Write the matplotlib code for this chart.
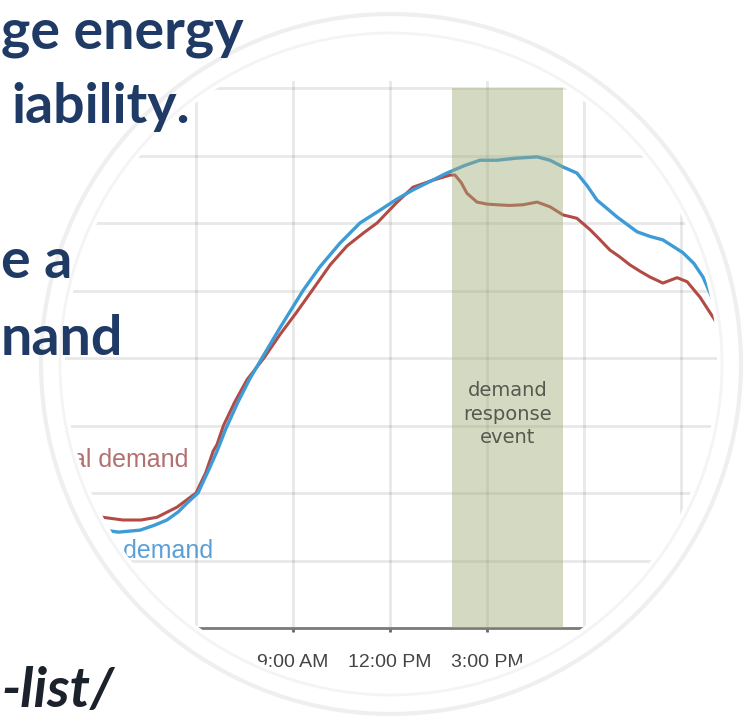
import numpy as np
import matplotlib
matplotlib.use("Agg")
import matplotlib.pyplot as plt
from matplotlib.path import Path
from matplotlib.patches import PathPatch, Circle

# actual demand (red), hours of day vs load (grid units)
actual_hours = [3.12, 3.74, 4.30, 4.79, 5.41, 6.00, 6.30, 6.53, 6.65, 6.85, 7.20, 7.58,
                8.10, 8.60, 9.10, 9.59, 10.15, 10.67, 11.20, 11.60, 12.20, 12.71, 13.30,
                13.86, 14.01, 14.20, 14.38, 14.69, 15.00, 15.31, 15.70, 16.11, 16.55, 16.95,
                17.35, 17.78, 18.19, 18.50, 18.80, 19.10, 19.42, 19.75, 20.04, 20.44, 20.88,
                21.19, 21.59, 22.05]
actual_load = [1.64, 1.60, 1.60, 1.64, 1.79, 2.00, 2.30, 2.62, 2.72, 3.00, 3.35, 3.68,
               4.00, 4.35, 4.67, 5.00, 5.38, 5.66, 5.86, 6.00, 6.30, 6.53, 6.63,
               6.71, 6.71, 6.60, 6.44, 6.31, 6.28, 6.27, 6.26, 6.27, 6.31, 6.24,
               6.12, 6.07, 5.90, 5.75, 5.60, 5.50, 5.38, 5.28, 5.20, 5.11, 5.19,
               5.13, 4.90, 4.56]

# forecast demand (blue)
forecast_hours = [3.18, 3.60, 4.27, 4.70, 5.10, 5.45, 5.72, 6.06, 6.40, 6.65, 6.92, 7.30,
                  7.65, 8.04, 8.60, 9.31, 9.83, 10.45, 11.07, 11.69, 12.20, 12.71, 13.30,
                  13.76, 14.30, 14.78, 15.31, 15.90, 16.55, 16.95, 17.35, 17.78, 18.10, 18.40,
                  18.70, 19.02, 19.64, 20.05, 20.44, 21.06, 21.40, 21.68, 21.99, 22.10]
forecast_load = [1.45, 1.42, 1.45, 1.52, 1.60, 1.72, 1.85, 2.00, 2.35, 2.62, 2.95, 3.35,
                 3.68, 4.00, 4.45, 5.00, 5.35, 5.70, 6.00, 6.19, 6.35, 6.49, 6.63,
                 6.74, 6.85, 6.93, 6.93, 6.96, 6.98, 6.93, 6.83, 6.74, 6.55, 6.34,
                 6.22, 6.09, 5.87, 5.80, 5.75, 5.56, 5.40, 5.20, 4.86, 4.70]

tick_hours = [6, 9, 12, 15, 18, 21]
tick_labels = ["6:00 AM", "9:00 AM", "12:00 PM", "3:00 PM", "6:00 PM", "9:00 PM"]
grid_levels = [1, 2, 3, 4, 5, 6, 7, 8]
event_start, event_end = 13.92, 17.35

fig = plt.figure(figsize=(7.56, 7.23), dpi=100)

# chart
ax = fig.add_axes([0, 95 / 723, 1, 546.75 / 723])
ax.set_xlim(-0.063, 23.32)
ax.set_ylim(0, 8.1)
ax.set_xticks(tick_hours)
ax.set_xticklabels(tick_labels, family="Liberation Sans")
ax.set_yticks(grid_levels)
ax.tick_params(axis="y", left=False, labelleft=False)
ax.tick_params(axis="x", length=3, width=2, color="#666666", labelsize=14,
               labelcolor="#444444", pad=16)
ax.grid(True, color="black", alpha=0.09, lw=2)
ax.set_axisbelow(True)
for s in ["top", "left", "right"]:
    ax.spines[s].set_visible(False)
ax.spines["bottom"].set_color("#7a7a7a")
ax.spines["bottom"].set_linewidth(2)

ax.plot(actual_hours, actual_load, color="#b24b45", lw=2.2, zorder=2)
ax.plot(forecast_hours, forecast_load, color="#3d9bd6", lw=2.4, zorder=2)
ax.fill_between([event_start, event_end], 0, 8, color="#a0ac78", alpha=0.45,
                lw=0, zorder=3)
ax.text((event_start + event_end) / 2, 3.17, "demand\nresponse\nevent",
        ha="center", va="center", fontsize=14, color="#555a50",
        family="DejaVu Sans", linespacing=1.3, zorder=5)
ax.text(5.75, 2.49, "Actual demand", ha="right", va="center", fontsize=18,
        family="Liberation Sans", color="#b27070")
ax.text(6.53, 1.14, "Forecast demand", ha="right", va="center", fontsize=18,
        family="Liberation Sans", color="#5aa0d8")

# slide overlay: white mask with round window, rings, slide text
ov = fig.add_axes([0, 0, 1, 1])
ov.set_xlim(0, 756)
ov.set_ylim(723, 0)
ov.axis("off")
ov.patch.set_visible(False)

cx, cy, r = 391, 364, 326
t = np.linspace(2 * np.pi, 0, 400)
circ = np.column_stack([cx + r * np.cos(t), cy + r * np.sin(t)])
rect = np.array([[-10, -10], [766, -10], [766, 733], [-10, 733], [-10, -10]])
verts = np.vstack([rect, circ])
codes = ([Path.MOVETO] + [Path.LINETO] * 3 + [Path.CLOSEPOLY] +
         [Path.MOVETO] + [Path.LINETO] * (len(circ) - 2) + [Path.CLOSEPOLY])
ov.add_patch(PathPatch(Path(verts, codes), facecolor="white", edgecolor="none", zorder=1))
ov.add_patch(Circle((cx, cy), 331, fill=False, ec="#f4f4f4", lw=2, zorder=2))
ov.add_patch(Circle((cx, cy), 350, fill=False, ec="#efefef", lw=3, zorder=2))

# slide text fragments
navy = "#1f3a64"
kw = dict(va="baseline", fontsize=40, fontweight="bold", family="Lato", zorder=5)
ov.text(1, 48, "ge energy", ha="left", color=navy, **kw)
ov.text(190, 123, "iability.", ha="right", color=navy, **kw)
ov.text(1, 278, "e a", ha="left", color=navy, **kw)
ov.text(1, 355, "nand", ha="left", color=navy, **kw)
ov.text(1, 707, "-list/", ha="left", color="#1c222c", style="italic", **kw)

fig.savefig("out.png", dpi=100)
